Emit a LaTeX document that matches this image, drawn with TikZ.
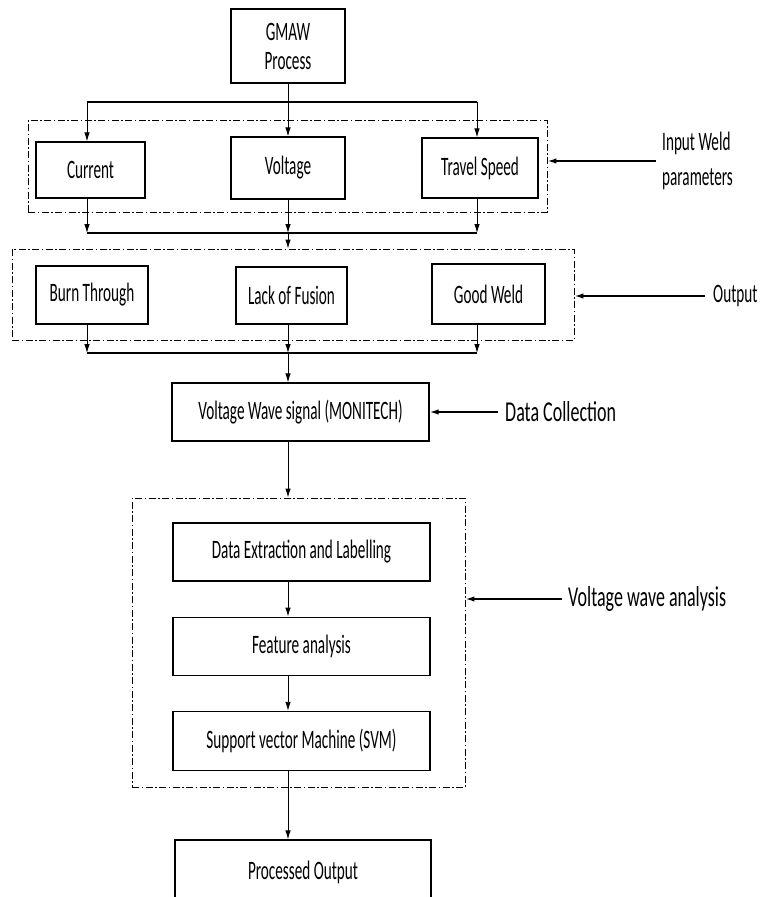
\documentclass[tikz,border=0pt]{standalone}
\usepackage{graphicx}
\usepackage{fontspec}
\setmainfont{Carlito}
\usetikzlibrary{arrows.meta, calc, positioning}
% narrow, tall lettering of the boxes and side labels
\newcommand{\tallt}[1]{\scalebox{1}[1.75]{#1}}
\newcommand{\tallb}[1]{\scalebox{1}[1.6]{#1}}

\begin{document}
\begin{tikzpicture}[
    x=1pt, y=-1pt,
    >={Latex[length=9pt,width=5.5pt]},
    font=\fontsize{15.2}{19}\selectfont,
    block/.style={draw, line width=1.2pt, inner sep=2pt, align=center},
    groupbox/.style={draw, line width=0.9pt,
                     dash pattern=on 7pt off 2.5pt on 1.5pt off 2.5pt,
                     inner sep=0pt},
    link/.style={->, line width=0.9pt},
    bus/.style={line width=1.5pt},
    sidelabel/.style={align=left, inner sep=0pt},
    biglabel/.style={font=\fontsize{18}{22}\selectfont, inner sep=0pt},
    sidearrow/.style={->, line width=1.6pt},
]

\useasboundingbox (0,0) rectangle (761,897);

% ---------------- Process and input weld parameters ---------------------
\node[block, minimum width=114pt, minimum height=74pt] (gmaw) at (288,46)
    {\tallt{GMAW}\\[10pt]\tallt{Process}};

\node[block, minimum width=109pt, minimum height=56pt] (cur)  at (90.5,170) {\tallt{Current}};
\node[block, minimum width=114pt, minimum height=62pt] (volt) at (288,168)  {\tallt{Voltage}};
\node[block, minimum width=116pt, minimum height=60pt] (trav) at (480,168)  {\tallt{Travel Speed}};
\node[groupbox, minimum width=519pt, minimum height=92pt] (grpIn) at (287.5,166) {};

% column and bus positions of the connectors
\coordinate (colL) at (87,0);
\coordinate (colM) at (288,0);
\coordinate (colR) at (477,0);
\coordinate (busA) at (288,102);
\coordinate (busB) at (288,233);
\coordinate (busC) at (288,353);

\draw[bus] (colL |- busA) -- (colR |- busA);
\draw[link] (gmaw.south) -- (volt.north);
\draw[link] (colL |- busA) -- (colL |- cur.north);
\draw[link] (colR |- busA) -- (colR |- trav.north);

\foreach \n/\c in {cur/colL, volt/colM, trav/colR} {%
    \draw[link] (\c |- \n.south) -- (\c |- busB);
}
\draw[bus] (colL |- busB) -- (colR |- busB);

% ---------------- Output classes ----------------------------------------
\node[block, minimum width=112pt, minimum height=58pt] (burn) at (92,295)     {\tallt{Burn Through}};
\node[block, minimum width=111pt, minimum height=57pt] (lack) at (291.5,295.5) {\tallt{Lack of Fusion}};
\node[block, minimum width=113pt, minimum height=60pt] (good) at (488.5,294)  {\tallt{Good Weld}};
\node[groupbox, minimum width=562pt, minimum height=91pt] (grpOut) at (293,294.5) {};

\draw[link] (busB) -- (busB |- grpOut.north);

\foreach \n/\c in {burn/colL, lack/colM, good/colR} {%
    \draw[link] (\c |- \n.south) -- (\c |- busC);
}
\draw[bus] (colL |- busC) -- (colR |- busC);

% ---------------- Data collection ---------------------------------------
\node[block, minimum width=257pt, minimum height=58pt] (vw) at (300.5,412)
    {\tallt{Voltage Wave signal (MONITECH)}};
\draw[link] (busC) -- (busC |- vw.north);

% ---------------- Voltage wave analysis ---------------------------------
\node[groupbox, minimum width=333pt, minimum height=289pt] (grpAna) at (298.5,642.5) {};
\node[block, minimum width=257pt, minimum height=58pt] (de) at (301.5,552)
    {\tallt{Data Extraction and Labelling}};
\node[block, minimum width=257pt, minimum height=58pt, below=35pt of de] (fa)
    {\tallt{Feature analysis}};
\node[block, minimum width=257pt, minimum height=59pt, below=35pt of fa] (svm)
    {\tallt{Support vector Machine (SVM)}};

\draw[link] (vw.south -| colM) -- (colM |- grpAna.north);
\draw[link] (de.south -| colM)  -- (colM |- fa.north);
\draw[link] (fa.south -| colM)  -- (colM |- svm.north);

% ---------------- Result (cut by the page edge) -------------------------
\node[block, minimum width=256pt, minimum height=64pt] (proc) at (303,872)
    {\tallt{Processed Output}};
\draw[link] (svm.south -| colM) -- (colM |- proc.north);

% ---------------- Side labels -------------------------------------------
\node[sidelabel, anchor=west] (inLbl)  at (662,161) {\tallt{Input Weld}\\[13pt]\tallt{parameters}};
\node[sidelabel, anchor=west] (outLbl) at (713,296) {\tallt{Output}};
\node[biglabel, anchor=west]  (dcLbl)  at (505,412) {\tallb{Data Collection}};
\node[biglabel, anchor=west]  (vwaLbl) at (568,599) {\tallb{Voltage wave analysis}};

\draw[sidearrow] ([xshift=-6pt]inLbl.west)  -- (inLbl.west -| grpIn.east);
\draw[sidearrow] ([xshift=-8pt]outLbl.west) -- (outLbl.west -| grpOut.east);
\draw[sidearrow] ([xshift=-7pt]dcLbl.west)  -- (dcLbl.west -| vw.east);
\draw[sidearrow] ([xshift=-6pt]vwaLbl.west) -- (vwaLbl.west -| grpAna.east);

\end{tikzpicture}
\end{document}
